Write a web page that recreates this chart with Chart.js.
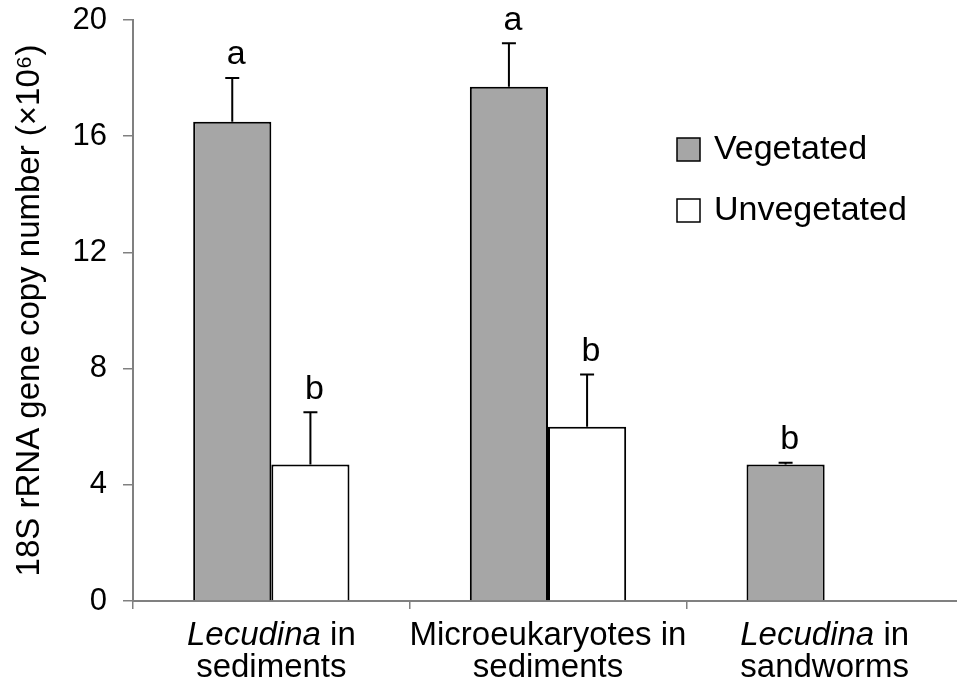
<!DOCTYPE html>
<html>
<head>
<meta charset="utf-8">
<script src="https://cdn.jsdelivr.net/npm/chart.js@4.4.0/dist/chart.umd.min.js"></script>
<style>
  html, body { margin: 0; padding: 0; overflow: hidden; background: #fff; }
  #wrap { width: 963px; height: 691px; }
</style>
</head>
<body>
<div id="wrap"><canvas id="chart"></canvas></div>
<script>
// values (x10^6 copies)
const categoryLines = [
  ["Lecudina in", "sediments"],
  ["Microeukaryotes in", "sediments"],
  ["Lecudina in", "sandworms"]
];
const italicTerms = ["Lecudina"];
const seriesNames = ["Vegetated", "Unvegetated"];
const vegetated = [16.5, 17.7, 4.7];
const vegetatedErr = [1.5, 1.5, 0.06];
const vegetatedLetters = ["a", "a", "b"];
const unvegetated = [4.7, 6.0, null];
const unvegetatedErr = [1.8, 1.8, null];
const unvegetatedLetters = ["b", "b", null];
const yTicks = [0, 4, 8, 12, 16, 20];

const errors = [vegetatedErr, unvegetatedErr];
const letters = [vegetatedLetters, unvegetatedLetters];
const FONT = "'Liberation Sans', Arial, sans-serif";

const errorBars = {
  id: "errorBars",
  afterDatasetsDraw(chart) {
    const { ctx } = chart;
    const y = chart.scales.y;
    ctx.save();
    ctx.strokeStyle = "#000";
    ctx.fillStyle = "#000";
    ctx.lineWidth = 2;
    ctx.font = "34px " + FONT;
    ctx.textAlign = "center";
    ctx.textBaseline = "bottom";
    chart.data.datasets.forEach((ds, di) => {
      const meta = chart.getDatasetMeta(di);
      meta.data.forEach((bar, i) => {
        const v = ds.data[i];
        if (v == null) return;
        const e = errors[di][i] || 0;
        const top = y.getPixelForValue(v + e);
        if (e) {
          ctx.beginPath();
          ctx.moveTo(bar.x, bar.y);
          ctx.lineTo(bar.x, top);
          ctx.moveTo(bar.x - 7, top);
          ctx.lineTo(bar.x + 7, top);
          ctx.stroke();
        }
        const l = letters[di][i];
        if (l) ctx.fillText(l, bar.x + 4, top - 6);
      });
    });
    ctx.restore();
  }
};

const xLabels = {
  id: "xLabels",
  afterDraw(chart) {
    const { ctx } = chart;
    const x = chart.scales.x;
    ctx.save();
    ctx.fillStyle = "#000";
    ctx.textBaseline = "alphabetic";
    ctx.textAlign = "left";
    const normal = "33px " + FONT;
    const italic = "italic 33px " + FONT;
    categoryLines.forEach((lines, i) => {
      const cx = x.getPixelForValue(i);
      lines.forEach((line, li) => {
        const term = italicTerms.find(t => line.startsWith(t));
        const parts = term ? [[term, italic], [line.slice(term.length), normal]] : [[line, normal]];
        let w = 0;
        parts.forEach(p => { ctx.font = p[1]; w += ctx.measureText(p[0]).width; });
        let px = cx - w / 2;
        const py = x.top + 44 + li * 32;
        parts.forEach(p => {
          ctx.font = p[1];
          ctx.fillText(p[0], px, py);
          px += ctx.measureText(p[0]).width;
        });
      });
    });
    ctx.restore();
  }
};

const boxLegend = {
  id: "boxLegend",
  afterDraw(chart) {
    const { ctx } = chart;
    ctx.save();
    ctx.font = "34px " + FONT;
    ctx.textBaseline = "middle";
    ctx.textAlign = "left";
    chart.data.datasets.forEach((ds, i) => {
      const top = 138 + i * 61;
      ctx.fillStyle = ds.backgroundColor;
      ctx.fillRect(677, top, 23, 23);
      ctx.strokeStyle = "#000";
      ctx.lineWidth = 1.5;
      ctx.strokeRect(677, top, 23, 23);
      ctx.fillStyle = "#000";
      ctx.fillText(ds.label, 714, top + 12);
    });
    ctx.restore();
  }
};

new Chart(document.getElementById("chart"), {
  type: "bar",
  data: {
    labels: categoryLines.map(l => l.join(" ")),
    datasets: [
      { label: seriesNames[0], data: vegetated, backgroundColor: "#a6a6a6", borderColor: "#000", borderWidth: 2 },
      { label: seriesNames[1], data: unvegetated, backgroundColor: "#ffffff", borderColor: "#000", borderWidth: 2 }
    ]
  },
  options: {
    responsive: true,
    maintainAspectRatio: false,
    animation: false,
    categoryPercentage: 0.565,
    barPercentage: 1,
    layout: { padding: { top: 20, right: 0, left: 0, bottom: 0 } },
    plugins: {
      legend: { display: false },
      tooltip: { enabled: false }
    },
    scales: {
      x: {
        grid: { display: true, drawOnChartArea: false, offset: true, tickLength: 8, color: "#808080", lineWidth: 1.5 },
        border: { color: "#808080", width: 2 },
        ticks: { display: false },
        afterFit(scale) { scale.height = 90; }
      },
      y: {
        min: 0,
        max: 20,
        afterBuildTicks(scale) { scale.ticks = yTicks.map(v => ({ value: v })); },
        grid: { drawOnChartArea: false, tickLength: 10, color: "#808080", lineWidth: 1.5 },
        border: { color: "#808080", width: 2 },
        ticks: { color: "#000", font: { size: 31, family: FONT }, padding: 16 },
        title: {
          display: true,
          text: "18S rRNA gene copy number (×10⁶)",
          color: "#000",
          font: { size: 33, family: FONT },
          padding: { top: 10, bottom: 0 }
        },
        afterFit(scale) {
          scale.width = 133;
          scale.paddingTop = 0;
          scale.paddingBottom = 0;
        }
      }
    }
  },
  plugins: [errorBars, xLabels, boxLegend]
});
</script>
</body>
</html>
